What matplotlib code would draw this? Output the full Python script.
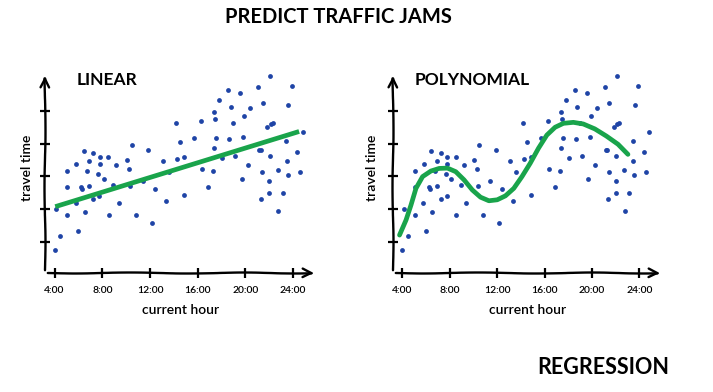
import numpy as np
import matplotlib
matplotlib.use("Agg")
import matplotlib.pyplot as plt

# data (same scatter in both panels)
hours = [4.00, 4.14, 4.48, 5.03, 5.03, 5.03, 5.76, 5.82, 5.99, 6.24,
         6.29, 6.43, 6.52, 6.74, 6.88, 6.88, 7.24, 7.22, 7.64, 7.75,
         7.78, 7.80, 8.11, 8.48, 8.53, 8.90, 9.17, 9.40, 10.04, 10.27,
         10.35, 10.49, 10.80, 11.41, 11.86, 12.17, 12.42, 13.12, 13.37, 13.62,
         14.15, 14.27, 14.52, 14.85, 14.83, 15.72, 16.28, 16.34, 16.84, 17.26,
         17.37, 17.37, 17.43, 17.57, 17.82, 18.07, 18.55, 18.66, 18.77, 18.97,
         19.16, 19.58, 19.69, 19.83, 19.92, 20.22, 20.39, 21.06, 21.17, 21.31,
         21.34, 21.45, 21.43, 21.85, 21.99, 22.01, 22.07, 22.10, 22.15, 22.27,
         22.69, 22.77, 23.16, 23.44, 23.50, 23.55, 23.61, 23.89, 24.36, 24.59, 24.81]
travel = [0.74, 2.00, 1.18, 3.16, 2.68, 1.82, 2.17, 3.39, 1.34, 2.66,
          2.61, 3.78, 1.91, 3.16, 3.48, 2.71, 3.72, 2.30, 3.06, 2.40,
          3.58, 3.37, 2.91, 3.58, 1.82, 2.72, 3.35, 2.19, 3.51, 3.21,
          2.70, 3.96, 1.82, 2.84, 3.79, 1.56, 2.60, 3.47, 2.24, 3.12,
          4.62, 3.52, 4.05, 3.60, 2.43, 4.17, 4.70, 3.21, 2.66, 3.15,
          3.88, 4.96, 4.76, 4.17, 5.32, 3.57, 5.63, 4.14, 5.11, 4.62,
          3.63, 5.55, 2.92, 4.19, 4.85, 3.36, 5.08, 5.72, 3.81, 3.81,
          2.31, 5.23, 3.13, 4.51, 2.86, 2.48, 3.62, 6.07, 4.60, 4.62,
          3.18, 1.95, 2.48, 4.09, 3.47, 3.04, 5.19, 5.77, 3.74, 3.12, 4.34]

linear_x = [4.06, 24.5]
linear_y = [2.07, 4.37]

poly_x = [3.75, 4.30, 4.72, 5.14, 5.70, 6.40, 7.10, 7.80, 8.50, 9.20,
          9.90, 10.59, 11.30, 12.00, 12.69, 13.40, 14.09, 14.79, 15.49, 16.19,
          16.89, 17.59, 18.43, 19.27, 20.24, 21.22, 22.20, 23.04]
poly_y = [1.20, 1.66, 2.12, 2.63, 2.99, 3.16, 3.24, 3.25, 3.14, 2.89,
          2.58, 2.36, 2.25, 2.28, 2.40, 2.63, 2.99, 3.40, 3.86, 4.26,
          4.50, 4.62, 4.65, 4.60, 4.45, 4.23, 3.98, 3.67]

tick_hours = [4, 8, 12, 16, 20, 24]
tick_labels = ["4:00", "8:00", "12:00", "16:00", "20:00", "24:00"]
y_ticks = [1, 2, 3, 4, 5]

BLUE = "#1f44a6"
GREEN = "#19a44b"

plt.xkcd(scale=0.5, length=120, randomness=2)
plt.rcParams["font.family"] = ["Lato", "DejaVu Sans"]
plt.rcParams["path.effects"] = []

fig = plt.figure(figsize=(7.13, 3.92), dpi=100)
W, H = 713, 392


def px_axes(left, top, right, bottom):
    return fig.add_axes([left / W, 1 - bottom / H, (right - left) / W, (bottom - top) / H])


def setup(ax, title, title_x, ylabel_x):
    ax.set_xlim(3.2, 26.0)
    ax.set_ylim(0.04, 6.16)
    for s in ax.spines.values():
        s.set_visible(False)
    ax.annotate("", xy=(1, 0), xytext=(0, 0), xycoords="axes fraction",
                arrowprops=dict(arrowstyle="->", lw=1.7, color="black", mutation_scale=16))
    ax.annotate("", xy=(0, 1), xytext=(0, 0), xycoords="axes fraction",
                arrowprops=dict(arrowstyle="->", lw=1.7, color="black", mutation_scale=16))
    ax.set_xticks(tick_hours)
    ax.set_xticklabels(tick_labels, fontsize=7.5, fontweight="semibold")
    ax.set_yticks(y_ticks)
    ax.set_yticklabels([])
    ax.tick_params(direction="inout", length=7, width=1.6, pad=6)
    ax.set_xlabel("current hour", fontsize=10, fontweight="semibold", labelpad=6)
    ax.set_ylabel("travel time", fontsize=10, fontweight="semibold")
    ax.yaxis.set_label_coords(ylabel_x, 0.525)
    fig.text(title_x / W, 1 - 80 / H, title, fontsize=12.5, fontweight="bold",
             ha="left", va="center")


ax1 = px_axes(45, 73, 317, 273)
ax1.scatter(hours, travel, s=12, color=BLUE, zorder=2, linewidths=0)
ln1, = ax1.plot(linear_x, linear_y, color=GREEN, lw=3.4, zorder=3, solid_capstyle="butt")
ln1.set_sketch_params(None)
setup(ax1, "LINEAR", 77, -0.044)

ax2 = px_axes(393, 73, 663, 273)
ax2.scatter(hours, travel, s=12, color=BLUE, zorder=2, linewidths=0)
ln2, = ax2.plot(poly_x, poly_y, color=GREEN, lw=3.4, zorder=3,
                solid_joinstyle="round", solid_capstyle="round")
ln2.set_sketch_params(None)
setup(ax2, "POLYNOMIAL", 415, -0.056)

fig.text(338 / W, 1 - 17 / H, "PREDICT TRAFFIC JAMS", fontsize=14.5, fontweight="bold",
         ha="center", va="center")
fig.text(603 / W, 1 - 368 / H, "REGRESSION", fontsize=15.5, fontweight="bold",
         ha="center", va="center")

fig.savefig("out.png", dpi=100)
